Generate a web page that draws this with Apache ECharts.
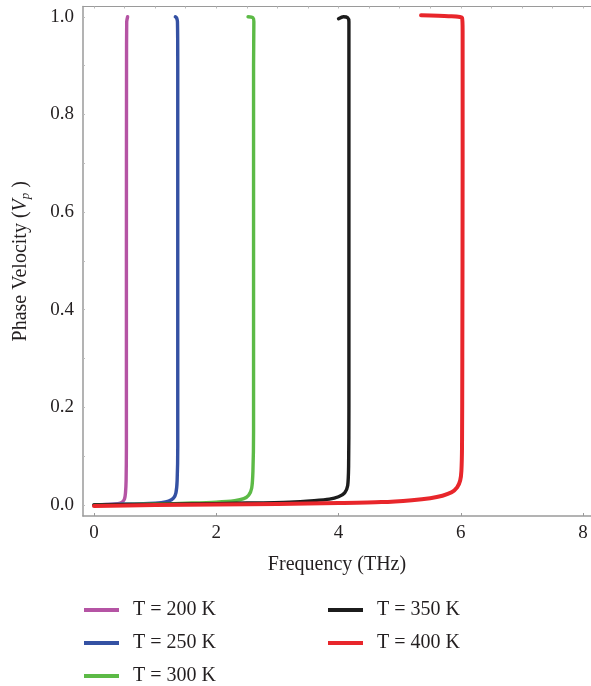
<!DOCTYPE html>
<html><head><meta charset="utf-8">
<script src="https://cdn.jsdelivr.net/npm/echarts@6/dist/echarts.min.js"></script>
<style>html,body{margin:0;padding:0;background:#fff}#c{width:591px;height:686px}</style>
</head><body><div id="c"></div>
<script>
const seriesNames = ['T = 200 K', 'T = 250 K', 'T = 300 K', 'T = 350 K', 'T = 400 K'];
const seriesColors = ['#b554a4', '#3451a3', '#5cba46', '#1c1c1c', '#e8262b'];
const xTicks = [0, 2, 4, 6, 8];
const yTicks = [0, 0.2, 0.4, 0.6, 0.8, 1.0];

// [frequency THz, phase velocity]
const t200 = [[0,0],[0.2,0.001],[0.35,0.002],[0.43,0.004],[0.47,0.007],[0.5,0.013],[0.515,0.025],[0.525,0.05],[0.53,0.12],[0.53,0.5],[0.532,0.9],[0.535,0.99],[0.55,1.0]];
const t250 = [[0,0],[0.5,0.002],[0.9,0.003],[1.1,0.005],[1.22,0.008],[1.3,0.014],[1.34,0.025],[1.36,0.05],[1.37,0.12],[1.37,0.5],[1.37,0.9],[1.365,0.99],[1.35,0.998],[1.33,1.0]];
const t300 = [[0,0],[1.0,0.002],[1.6,0.004],[2.0,0.006],[2.3,0.009],[2.45,0.013],[2.53,0.02],[2.58,0.035],[2.6,0.07],[2.61,0.15],[2.61,0.5],[2.61,0.9],[2.615,0.99],[2.6,0.998],[2.52,1.0]];
const t350 = [[0,0],[1.5,0.002],[2.5,0.004],[3.2,0.006],[3.6,0.009],[3.85,0.012],[4.0,0.017],[4.1,0.025],[4.15,0.04],[4.165,0.08],[4.17,0.2],[4.17,0.6],[4.17,0.95],[4.17,0.99],[4.15,0.998],[4.08,1.0],[4.0,0.996]];
const t400 = [[0,-0.002],[1,0],[2,0.001],[3,0.002],[4,0.004],[4.7,0.006],[5.2,0.01],[5.5,0.014],[5.7,0.019],[5.85,0.026],[5.94,0.036],[5.99,0.05],[6.01,0.07],[6.02,0.12],[6.025,0.3],[6.03,0.7],[6.03,0.97],[6.02,0.998],[5.8,1.001],[5.35,1.003]];
const seriesData = [t200, t250, t300, t350, t400];
const lineWidths = [3.4, 3.4, 3.4, 3.4, 4];

const FONT = '"Liberation Serif", "DejaVu Serif", serif';
const TXT = '#231f20';
const AX = '#9a9a9a';

const chart = echarts.init(document.getElementById('c'), null, {renderer: 'canvas'});
const minorX = []; for (let i = 0; i <= 16; i++) minorX.push(i * 0.5);
const minorY = []; for (let i = 0; i <= 10; i++) minorY.push(+(i * 0.1).toFixed(1));

chart.setOption({
  animation: false,
  backgroundColor: '#fff',
  textStyle: {fontFamily: FONT},
  grid: {left: 83, right: 0, top: 6.5, bottom: 170},
  xAxis: [{
    type: 'value', min: -0.18, max: 8.13, position: 'bottom',
    axisLine: {show: true, onZero: false, lineStyle: {color: AX, width: 1.5}},
    axisTick: {show: true, inside: true, length: 3, customValues: xTicks, lineStyle: {color: AX}},
    axisLabel: {customValues: xTicks, fontFamily: FONT, fontSize: 19, color: TXT, margin: 8},
    splitLine: {show: false},
    name: 'Frequency (THz)', nameLocation: 'middle', nameGap: 39,
    nameTextStyle: {fontFamily: FONT, fontSize: 20, color: TXT}
  }, {
    type: 'value', min: -0.18, max: 8.13, position: 'top',
    axisLine: {show: true, onZero: false, lineStyle: {color: AX, width: 1}},
    axisTick: {show: true, inside: true, length: 2, customValues: minorX, lineStyle: {color: '#bbb'}},
    axisLabel: {show: false}, splitLine: {show: false}
  }],
  yAxis: {
    type: 'value', min: -0.0225, max: 1.021,
    axisLine: {show: true, onZero: false, lineStyle: {color: AX, width: 1.5}},
    axisTick: {show: true, inside: true, length: 2, customValues: minorY, lineStyle: {color: '#bbb'}},
    axisLabel: {customValues: yTicks, fontFamily: FONT, fontSize: 19, color: TXT, margin: 9,
      formatter: v => v.toFixed(1)},
    splitLine: {show: false},
    name: 'Phase Velocity ({i|V}{s|p} )', nameLocation: 'middle', nameGap: 51, nameRotate: 90,
    nameTextStyle: {fontFamily: FONT, fontSize: 20, color: TXT,
      rich: {
        i: {fontFamily: FONT, fontSize: 20, fontStyle: 'italic', color: TXT},
        s: {fontFamily: FONT, fontSize: 13, fontStyle: 'italic', color: TXT, padding: [9, 0, 0, 0]}
      }}
  },
  legend: [{
    data: seriesNames.slice(0, 3), orient: 'vertical', left: 84, top: 600, padding: 0,
    icon: 'rect', itemWidth: 35, itemHeight: 4, itemGap: 13,
    textStyle: {fontFamily: FONT, fontSize: 20, color: TXT, lineHeight: 20, padding: [0, 0, 0, 9]}
  }, {
    data: seriesNames.slice(3), orient: 'vertical', left: 328, top: 600, padding: 0,
    icon: 'rect', itemWidth: 35, itemHeight: 4, itemGap: 13,
    textStyle: {fontFamily: FONT, fontSize: 20, color: TXT, lineHeight: 20, padding: [0, 0, 0, 9]}
  }],
  series: seriesNames.map((n, i) => ({
    name: n, type: 'line', data: seriesData[i], showSymbol: false, symbol: 'none',
    smooth: 0.25, color: seriesColors[i],
    lineStyle: {width: lineWidths[i], color: seriesColors[i], cap: 'round', join: 'round'},
    itemStyle: {color: seriesColors[i]}
  }))
});
</script></body></html>
